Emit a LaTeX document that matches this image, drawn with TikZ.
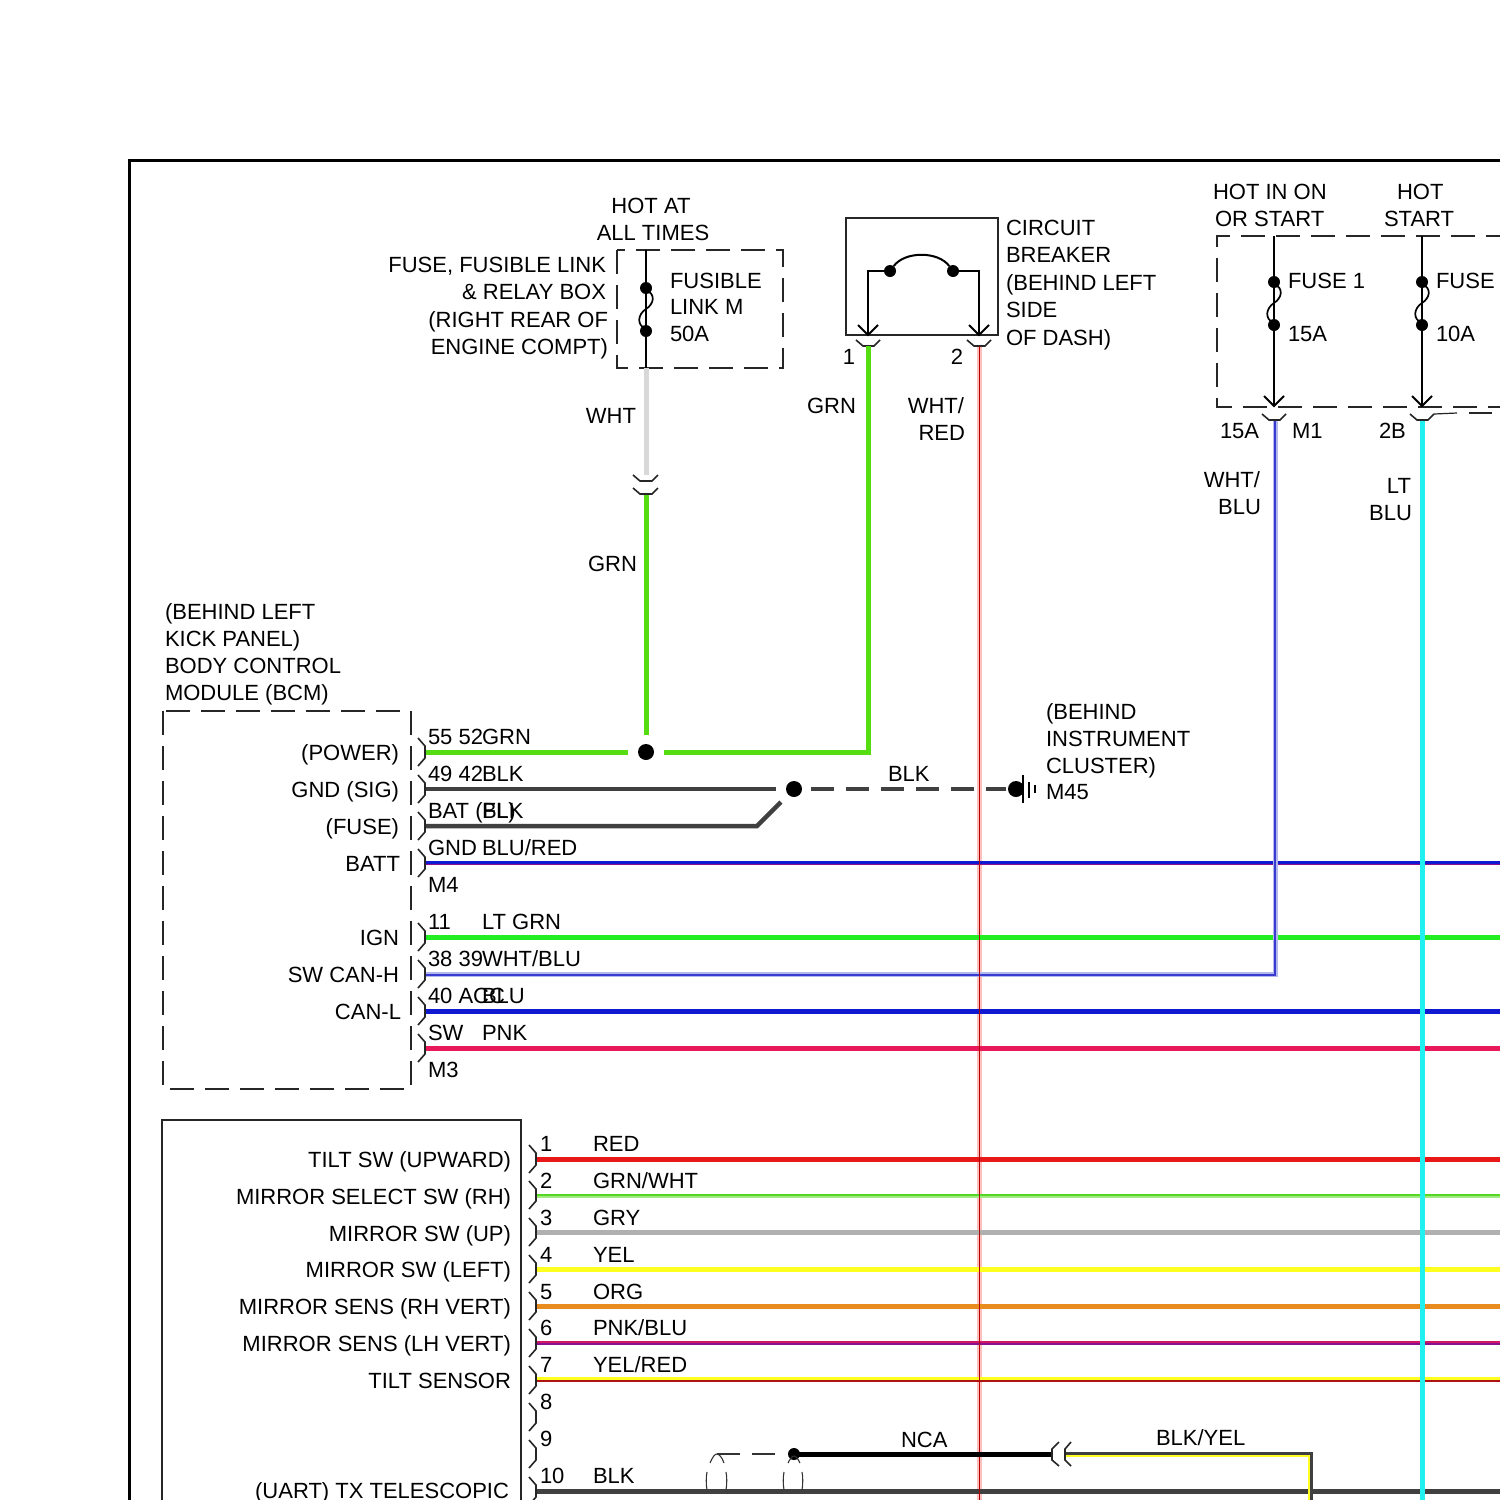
\documentclass[tikz,border=0pt]{standalone}
\usepackage{fontspec}
\setmainfont{Liberation Sans}
\definecolor{cgrn}{HTML}{55DD11}
\definecolor{cblk}{HTML}{404040}
\definecolor{cwht}{HTML}{D8D8D8}
\definecolor{cltgrn}{HTML}{22EE22}
\definecolor{cblu}{HTML}{1018D0}
\definecolor{cpnk}{HTML}{E8185A}
\definecolor{cred}{HTML}{E81818}
\definecolor{cgrnw}{HTML}{55D820}
\definecolor{cgry}{HTML}{B0B0B0}
\definecolor{cyel}{HTML}{FFFF20}
\definecolor{corg}{HTML}{E88C20}
\definecolor{cpur}{HTML}{8A1090}
\definecolor{ccyan}{HTML}{20F0F0}
\definecolor{cwb}{HTML}{B0B8EC}
\definecolor{cwbc}{HTML}{3A3AD0}
\tikzset{
  txt/.style={inner sep=0pt,outer sep=0pt,font=\fontsize{22}{27}\selectfont,text=black},
  lbl/.style={txt,anchor=base west},
  rbl/.style={txt,anchor=base east},
  cbl/.style={txt,anchor=base},
  thin wire/.style={draw=black,line width=2pt},
  box dash/.style={draw=black!85,line width=2pt,dash pattern=on 24pt off 11pt},
  conn/.style={draw=black!85,line width=1.6pt},
  dotm/.style={circle,fill=black,inner sep=0pt,minimum size=#1},
  wire/.style={line width=#1,line cap=butt},
}
\newcommand{\pinh}[2]{\draw[conn] (#1-7,#2-14) -- (#1,#2-6) -- (#1,#2+6) -- (#1-7,#2+14);}
\newcommand{\pinv}[2]{\draw[conn] (#1-12,#2-6) -- (#1-5,#2) -- (#1+6,#2) -- (#1+12,#2-6);}
\newcommand{\chev}[2]{\draw[thin wire] (#1-10,#2-10) -- (#1,#2) -- (#1+10,#2-10);}
\newcommand{\fuselink}[3]{\draw[black,line width=1.7pt] (#1,#2+2) .. controls (#1+10,#2+6) and (#1+8,#2+16) .. (#1,#2+21) .. controls (#1-8,#2+26) and (#1-10,#3-6) .. (#1,#3-2);}
\begin{document}
\begin{tikzpicture}[x=1pt,y=-1pt]
\useasboundingbox (0,0) rectangle (1500,1500);
\clip (0,0) rectangle (1500,1500);
\fill[white] (0,0) rectangle (1500,1500);

% frames
\draw[black,line width=3.5pt] (1510,160.5) -- (129.5,160.5) -- (129.5,1510);
\draw[box dash] (163,711) rectangle (411,1089);
\draw[box dash] (617,250) rectangle (783,368);
\draw[box dash] (1510,236) -- (1217,236) -- (1217,407) -- (1510,407);
\draw[black!85,line width=1.8pt] (846,218) rectangle (998,335);
\draw[black!85,line width=1.8pt] (162,1510) -- (162,1120) -- (521,1120) -- (521,1510);

% named points
\coordinate (linkT) at (646,250);
\coordinate (linkA) at (646,288);
\coordinate (linkB) at (646,331);
\coordinate (linkC) at (646,368);
\coordinate (inlineT) at (646,475);
\coordinate (inlineB) at (646,494);
\coordinate (spliceG) at (646,752);
\coordinate (cbL) at (868,346);
\coordinate (cbR) at (979.5,346);
\coordinate (bcmGrn) at (425,752);
\coordinate (bcmBlkA) at (425,789);
\coordinate (bcmBlkB) at (425,826);
\coordinate (spliceK) at (794,789);
\coordinate (gndP) at (1016,789);

% WHT/RED base (under the crossing wires)
\draw[red!25,wire=4.5pt] (cbR) -- (979.5,1510);

% vertical feeds
\draw[cwht,wire=5pt] (linkC) -- (inlineT);
\draw[cgrn,wire=5pt] (inlineB) -- (646,735);
\draw[thin wire] (linkT) -- (linkC);
\node[dotm=12pt] (dA) at (linkA) {};
\node[dotm=12pt] (dB) at (linkB) {};
\fuselink{646}{288}{331}
\draw[conn] (633,475) -- (640,481) -- (652,481) -- (658,475);
\draw[conn] (633,488) -- (640,494) -- (652,494) -- (658,488);

% breaker
\node[dotm=12pt] (cb1) at (890,271) {};
\node[dotm=12pt] (cb2) at (953,271) {};
\draw[thin wire] (cb1) .. controls (905,251) and (938,251) .. (cb2);
\draw[thin wire] (cb1) -- (868,271) -- (868,334);
\draw[thin wire] (cb2) -- (979,271) -- (979,334);
\chev{868}{335}\chev{979}{335}
\pinv{868}{346}\pinv{979}{346}

% fuses at right
\foreach \xx in {1274,1422}{
  \draw[thin wire] (\xx,236) -- (\xx,406);
  \node[dotm=12pt] at (\xx,282) {};
  \node[dotm=12pt] at (\xx,325) {};
  \fuselink{\xx}{282}{325}
  \chev{\xx}{406}
  \pinv{\xx}{420}
}
\draw[black!85,line width=1.2pt] (1434,414) -- (1457,413);
\draw[black!85,line width=1.2pt] (1469,413) -- (1492,413);

% horizontal wires, BCM
\draw[cgrn,wire=5pt] (bcmGrn) -- (628,752);
\draw[cgrn,wire=5pt] (664,752) -- (868,752) -- (cbL);
\node[dotm=16pt] (sG) at (spliceG) {};
\draw[cblk,wire=4.5pt] (bcmBlkA) -- (776,789);
\draw[cblk,wire=4.5pt] (bcmBlkB) -- (757,826) -- (781,802);
\node[dotm=16pt] (sK) at (spliceK) {};
\draw[cblk,wire=4.5pt,dash pattern=on 23pt off 12pt] (811,789) -- (1006,789);
\node[dotm=16pt] (gP) at (gndP) {};
\draw[black,line width=1.8pt] (1023,775) -- (1023,803);
\draw[black,line width=1.8pt] (1029,782) -- (1029,798);
\draw[black,line width=1.8pt] (1035,785) -- (1035,793);

\draw[cpur,wire=4.5pt] (425,863) -- (1500,863);
\draw[cblu,wire=2.8pt] (425,862.3) -- (1500,862.3);
\draw[cltgrn,wire=5pt] (425,937) -- (1500,937);
\draw[cblu,wire=5pt] (425,1011) -- (1500,1011);
\draw[cpnk,wire=5pt] (425,1048) -- (1500,1048);
% WHT/BLU
\draw[cwb,wire=5pt] (425,974) -- (1275,974) -- (1275,421);
\draw[cwbc,line width=1.1pt] (425,975) -- (1275,975) -- (1275,421);

% lower wires
\draw[cred,wire=5pt] (535,1159) -- (1500,1159);
\draw[cgrnw!55!white,wire=4.5pt] (535,1196) -- (1500,1196);
\draw[cgrnw,wire=2.8pt] (535,1195) -- (1500,1195);
\draw[cgry,wire=5pt] (535,1232.5) -- (1500,1232.5);
\draw[cyel,wire=5pt] (535,1269.5) -- (1500,1269.5);
\draw[corg,wire=5pt] (535,1306) -- (1500,1306);
\draw[cpnk!75!cpur,wire=4.5pt] (535,1343) -- (1500,1343);
\draw[cpur,wire=2.2pt] (535,1344) -- (1500,1344);
\draw[cyel,wire=5pt] (535,1379.5) -- (1500,1379.5);
\draw[cred!75!black,wire=1.3pt] (535,1381) -- (1500,1381);
\draw[cblk,wire=5pt] (535,1491) -- (1500,1491);

% WHT/RED core and LT BLU
\draw[red!70!black,line width=1.2pt] (cbR) -- (979.5,1510);
\draw[ccyan,wire=5pt] (1422,421) -- (1422,1510);

% BLK/YEL and NCA
\coordinate (ncaA) at (794,1454);
\coordinate (ncaB) at (1052,1454);
\coordinate (byA) at (1066,1455);
\draw[black,wire=5pt] (ncaA) -- (ncaB);
\node[dotm=12pt] (sN) at (ncaA) {};
\draw[cyel,wire=4pt] (byA) -- (1310,1455) -- (1310,1510);
\draw[cblk,wire=2.4pt] (1066,1453.5) -- (1311.5,1453.5) -- (1311.5,1510);
\draw[black!80,line width=1.1pt,dash pattern=on 23pt off 12pt] (717,1454) -- (786,1454);
\draw[black!80,line width=1.1pt] (710,1463) .. controls (713,1456) and (715,1454) .. (717,1454) .. controls (719,1454) and (722,1457) .. (724,1463);
\draw[black!80,line width=1.1pt] (788,1463) .. controls (790,1459) and (792,1456) .. (794,1456) .. controls (796,1456) and (798,1459) .. (800,1463);
\foreach \xx/\yy in {706/727,783/803}{
  \draw[black!80,line width=1.1pt] (\xx+1,1472) .. controls (\xx,1477) and (\xx,1484) .. (\xx+1,1490);
  \draw[black!80,line width=1.1pt] (\yy-1,1472) .. controls (\yy,1477) and (\yy,1484) .. (\yy-1,1490);
}
\draw[conn] (1059,1442) -- (1052,1449) -- (1052,1460) -- (1059,1466);
\draw[conn] (1071,1442) -- (1065,1449) -- (1065,1460) -- (1071,1466);

% pins
\foreach \yy in {752,789,826,863,937,974,1011,1048}{\pinh{425}{\yy}}
\foreach \yy in {1159,1195,1232,1269,1306,1343,1380,1417,1454,1491}{\pinh{536}{\yy}}

% texts
\node[cbl] (t1) at (651,213) {HOT AT};
\node[cbl] (t2) at (653,240) {ALL TIMES};
\node[rbl] (t3) at (606,272) {FUSE, FUSIBLE LINK};
\node[rbl] (t4) at (606,299) {\& RELAY BOX};
\node[rbl] (t5) at (608,327) {(RIGHT REAR OF};
\node[rbl] (t6) at (608,354) {ENGINE COMPT)};
\node[lbl] (t7) at (670,288) {FUSIBLE};
\node[lbl] (t8) at (670,314) {LINK M};
\node[lbl] (t9) at (670,341) {50A};
\node[rbl] (t10) at (636,423) {WHT};
\node[rbl] (t11) at (637,571) {GRN};
\node[lbl] (t12) at (165,619) {(BEHIND LEFT};
\node[lbl] (t13) at (165,646) {KICK PANEL)};
\node[lbl] (t14) at (165,673) {BODY CONTROL};
\node[lbl] (t15) at (165,700) {MODULE (BCM)};
\node[rbl] (t16) at (856,413) {GRN};
\node[rbl] (t17) at (964,413) {WHT/};
\node[rbl] (t18) at (965,440) {RED};
\node[cbl] (t19) at (849,364) {1};
\node[cbl] (t20) at (957,364) {2};
\node[lbl] (t21) at (1006,235) {CIRCUIT};
\node[lbl] (t22) at (1006,262) {BREAKER};
\node[lbl] (t23) at (1006,290) {(BEHIND LEFT};
\node[lbl] (t24) at (1006,317) {SIDE};
\node[lbl] (t25) at (1006,345) {OF DASH)};
\node[lbl] (t26) at (1213,199) {HOT IN ON};
\node[lbl] (t27) at (1215,226) {OR START};
\node[lbl] (t28) at (1397,199) {HOT};
\node[lbl] (t29) at (1384,226) {START};
\node[lbl] (t30) at (1288,288) {FUSE 1};
\node[lbl] (t31) at (1288,341) {15A};
\node[lbl] (t32) at (1436,288) {FUSE};
\node[lbl] (t33) at (1436,341) {10A};
\node[lbl] (t34) at (1220,438) {15A};
\node[lbl] (t35) at (1292,438) {M1};
\node[lbl] (t36) at (1379,438) {2B};
\node[rbl] (t37) at (1260,487) {WHT/};
\node[rbl] (t38) at (1261,514) {BLU};
\node[rbl] (t39) at (1411,493) {LT};
\node[rbl] (t40) at (1412,520) {BLU};
\node[lbl] (t41) at (1046,719) {(BEHIND};
\node[lbl] (t42) at (1046,746) {INSTRUMENT};
\node[lbl] (t43) at (1046,773) {CLUSTER)};
\node[lbl] (t44) at (1046,799) {M45};
\node[lbl] (t45) at (888,781) {BLK};
\node[rbl] (t46) at (399,760) {(POWER)};
\node[rbl] (t47) at (399,797) {GND (SIG)};
\node[rbl] (t48) at (399,834) {(FUSE)};
\node[rbl] (t49) at (400,871) {BATT};
\node[rbl] (t50) at (399,945) {IGN};
\node[rbl] (t51) at (399,982) {SW CAN-H};
\node[rbl] (t52) at (401,1019) {CAN-L};
\node[lbl] (t53) at (428,744) {55 52};
\node[lbl] (t54) at (482,744) {GRN};
\node[lbl] (t55) at (428,781) {49 42};
\node[lbl] (t56) at (482,781) {BLK};
\node[lbl] (t57) at (428,818) {BAT (FL)};
\node[lbl] (t58) at (482,818) {BLK};
\node[lbl] (t59) at (428,855) {GND};
\node[lbl] (t60) at (482,855) {BLU/RED};
\node[lbl] (t61) at (428,892) {M4};
\node[lbl] (t62) at (428,929) {11};
\node[lbl] (t63) at (482,929) {LT GRN};
\node[lbl] (t64) at (428,966) {38 39};
\node[lbl] (t65) at (482,966) {WHT/BLU};
\node[lbl] (t66) at (428,1003) {40 ACC};
\node[lbl] (t67) at (482,1003) {BLU};
\node[lbl] (t68) at (428,1040) {SW};
\node[lbl] (t69) at (482,1040) {PNK};
\node[lbl] (t70) at (428,1077) {M3};
\node[rbl] (t71) at (511,1167) {TILT SW (UPWARD)};
\node[rbl] (t72) at (511,1204) {MIRROR SELECT SW (RH)};
\node[rbl] (t73) at (511,1241) {MIRROR SW (UP)};
\node[rbl] (t74) at (511,1277) {MIRROR SW (LEFT)};
\node[rbl] (t75) at (511,1314) {MIRROR SENS (RH VERT)};
\node[rbl] (t76) at (511,1351) {MIRROR SENS (LH VERT)};
\node[rbl] (t77) at (511,1388) {TILT SENSOR};
\node[rbl] (t78) at (509,1498) {(UART) TX TELESCOPIC};
\foreach \n/\yy in {1/1151,2/1188,3/1225,4/1262,5/1299,6/1335,7/1372,8/1409,9/1446,10/1483}{
  \node[lbl] at (540,\yy) {\n};
}
\node[lbl] (t79) at (593,1151) {RED};
\node[lbl] (t80) at (593,1188) {GRN/WHT};
\node[lbl] (t81) at (593,1225) {GRY};
\node[lbl] (t82) at (593,1262) {YEL};
\node[lbl] (t83) at (593,1299) {ORG};
\node[lbl] (t84) at (593,1335) {PNK/BLU};
\node[lbl] (t85) at (593,1372) {YEL/RED};
\node[lbl] (t86) at (593,1483) {BLK};
\node[lbl] (t87) at (901,1447) {NCA};
\node[lbl] (t88) at (1156,1445) {BLK/YEL};
\end{tikzpicture}
\end{document}
